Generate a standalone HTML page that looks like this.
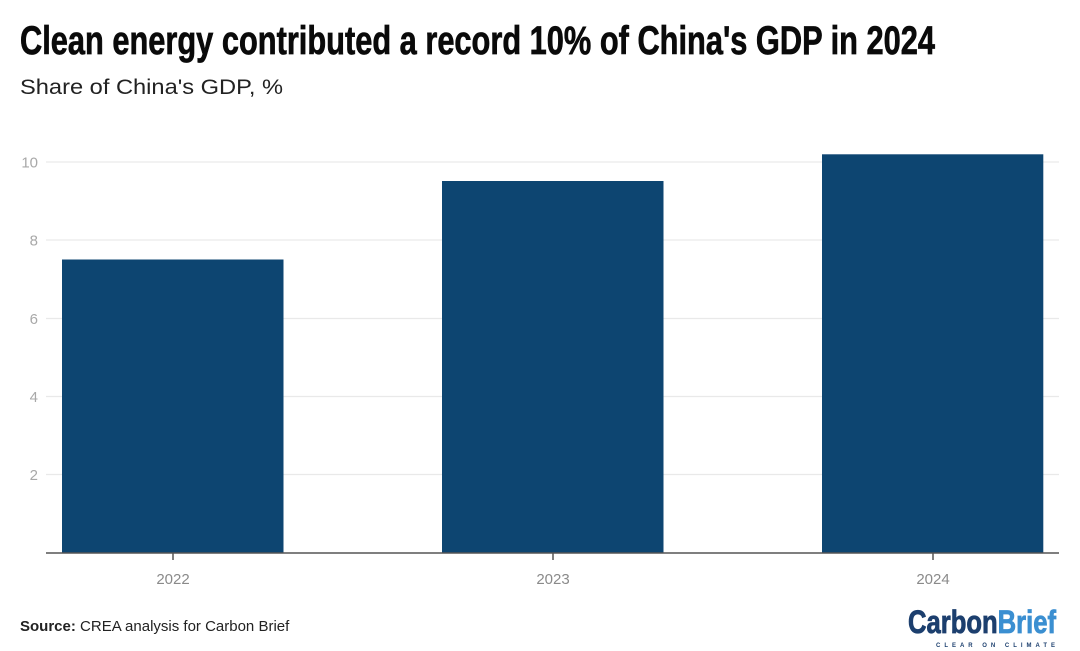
<!DOCTYPE html>
<html>
<head>
<meta charset="utf-8">
<style>
html,body{margin:0;padding:0;background:#fff;}
body{width:1080px;height:651px;overflow:hidden;}
svg{display:block;}
</style>
</head>
<body>
<svg width="1080" height="651" viewBox="0 0 1080 651" xmlns="http://www.w3.org/2000/svg">
  <rect width="1080" height="651" fill="#ffffff"/>
  <!-- Title -->
  <text x="20" y="54" font-family="'Liberation Sans Narrow','Liberation Sans',sans-serif" font-weight="bold" font-size="40" fill="#0a0a0a" stroke="#0a0a0a" stroke-width="0.7" textLength="915" lengthAdjust="spacingAndGlyphs">Clean energy contributed a record 10% of China's GDP in 2024</text>
  <!-- Subtitle -->
  <text x="20" y="94" font-family="'Liberation Sans',sans-serif" font-size="21" fill="#222" textLength="263" lengthAdjust="spacingAndGlyphs">Share of China's GDP, %</text>

  <!-- Gridlines -->
  <g stroke="#e9e9e9" stroke-width="1.3">
    <line x1="46" y1="162" x2="1059" y2="162"/>
    <line x1="46" y1="240" x2="1059" y2="240"/>
    <line x1="46" y1="318.5" x2="1059" y2="318.5"/>
    <line x1="46" y1="396.5" x2="1059" y2="396.5"/>
    <line x1="46" y1="474.5" x2="1059" y2="474.5"/>
  </g>
  <!-- Y labels -->
  <g font-family="'Liberation Sans',sans-serif" font-size="15" fill="#a8a8a8" text-anchor="end">
    <text x="38" y="167.5">10</text>
    <text x="38" y="245.5">8</text>
    <text x="38" y="324">6</text>
    <text x="38" y="402">4</text>
    <text x="38" y="480">2</text>
  </g>

  <!-- Bars -->
  <g fill="#0d4571">
    <rect x="62" y="259.5" width="221.5" height="293"/>
    <rect x="442" y="181" width="221.5" height="371.5"/>
    <rect x="822" y="154.3" width="221.3" height="398.2"/>
  </g>

  <!-- Axis -->
  <line x1="46" y1="553" x2="1059" y2="553" stroke="#555" stroke-width="1.5"/>
  <g stroke="#555" stroke-width="1.5">
    <line x1="173" y1="553" x2="173" y2="560"/>
    <line x1="553" y1="553" x2="553" y2="560"/>
    <line x1="933" y1="553" x2="933" y2="560"/>
  </g>
  <g font-family="'Liberation Sans',sans-serif" font-size="15" fill="#8a8a8a" text-anchor="middle">
    <text x="173" y="584">2022</text>
    <text x="553" y="584">2023</text>
    <text x="933" y="584">2024</text>
  </g>

  <!-- Source -->
  <text x="20" y="631" font-family="'Liberation Sans',sans-serif" font-size="15" fill="#222"><tspan font-weight="bold">Source:</tspan> CREA analysis for Carbon Brief</text>

  <!-- Logo -->
  <text x="908" y="633" font-family="'Liberation Sans Narrow','Liberation Sans',sans-serif" font-weight="bold" font-size="32" stroke-width="0.8" textLength="148" lengthAdjust="spacingAndGlyphs"><tspan fill="#1c3f6e" stroke="#1c3f6e">Carbon</tspan><tspan fill="#3b8fd1" stroke="#3b8fd1">Brief</tspan></text>
  <text x="936" y="647" font-family="'Liberation Sans',sans-serif" font-weight="bold" font-size="6" fill="#1c3f6e" textLength="119" lengthAdjust="spacing">CLEAR ON CLIMATE</text>
</svg>
</body>
</html>
